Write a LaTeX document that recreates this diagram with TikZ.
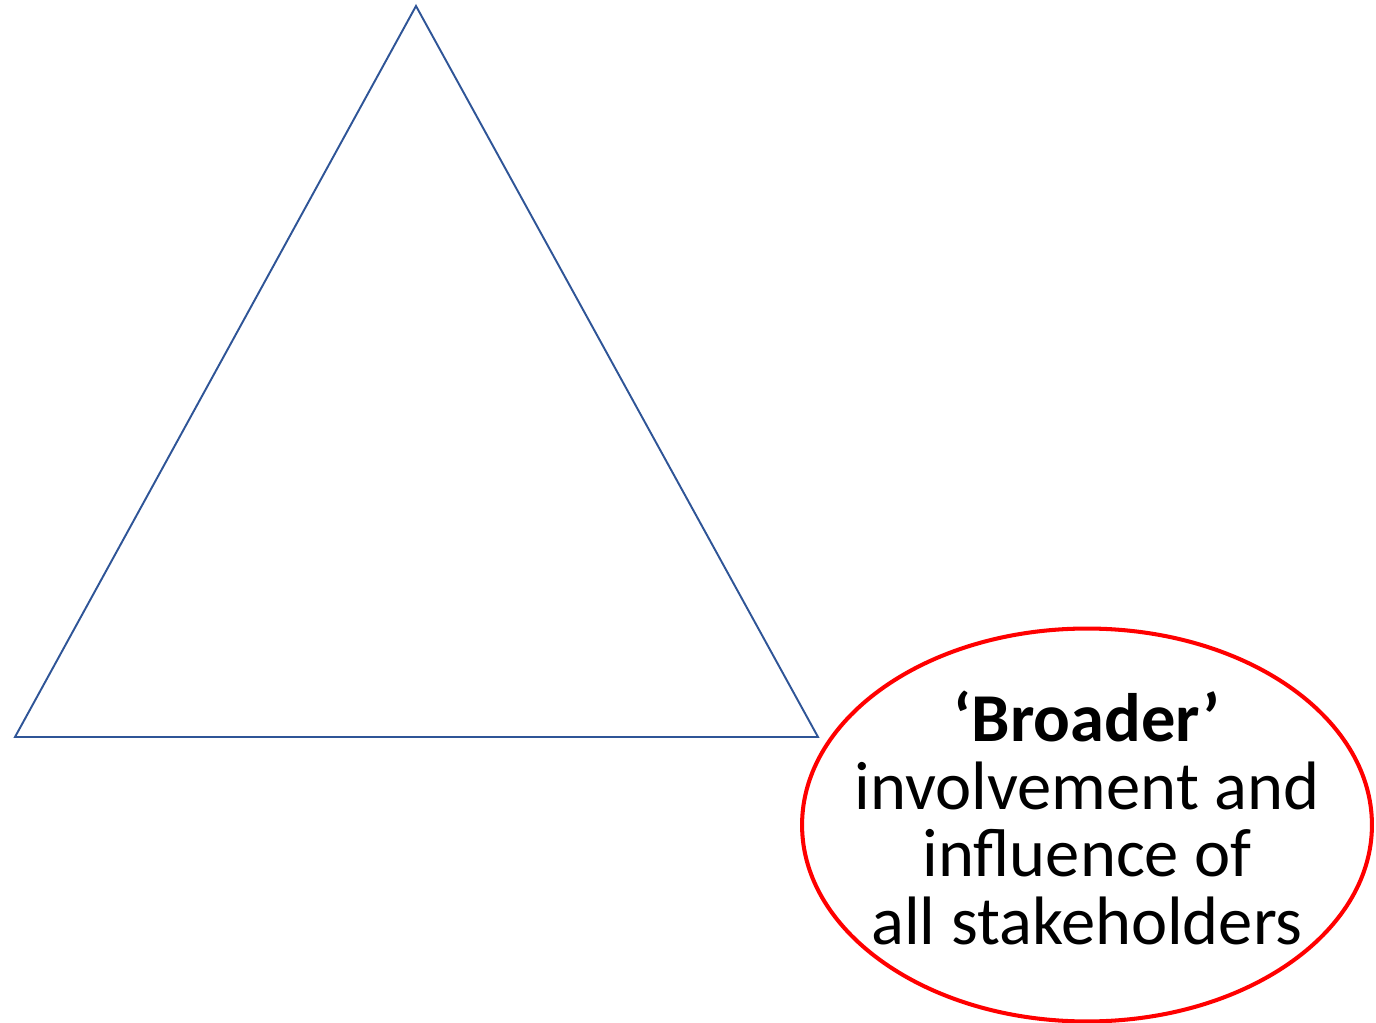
\documentclass[tikz,border=0pt]{standalone}
\usepackage{fontspec}
\setmainfont{Carlito}
\usepackage{tikz}
\usetikzlibrary{shapes.geometric}
\definecolor{triblue}{HTML}{2F5597}
\tikzstyle{pyramid} = [draw=triblue, line width=1.1pt, line join=miter]
\tikzstyle{bubble} = [ellipse, minimum width=11.4cm, minimum height=7.86cm, inner sep=0pt, draw=red, line width=2.3pt]
\tikzstyle{bubbletext} = [inner sep=0pt, align=center, font=\fontsize{39}{38.5}\selectfont]

\begin{document}
\begin{tikzpicture}[x=0.02cm, y=-0.02cm]

\useasboundingbox (0,0) rectangle (1376,1023);

% objects
\coordinate (top) at (416,6);
\coordinate (left) at (15,737);
\coordinate (right) at (818,737);
\node (broader) at (1087,825) [bubble] {};
\node (broadertext) at (1087,818) [bubbletext] {\textbf{‘Broader’}\\involvement and\\influence of\\all stakeholders};

% triangle
\draw [pyramid] (top) -- (right) -- (left) -- cycle;

\end{tikzpicture}
\end{document}
